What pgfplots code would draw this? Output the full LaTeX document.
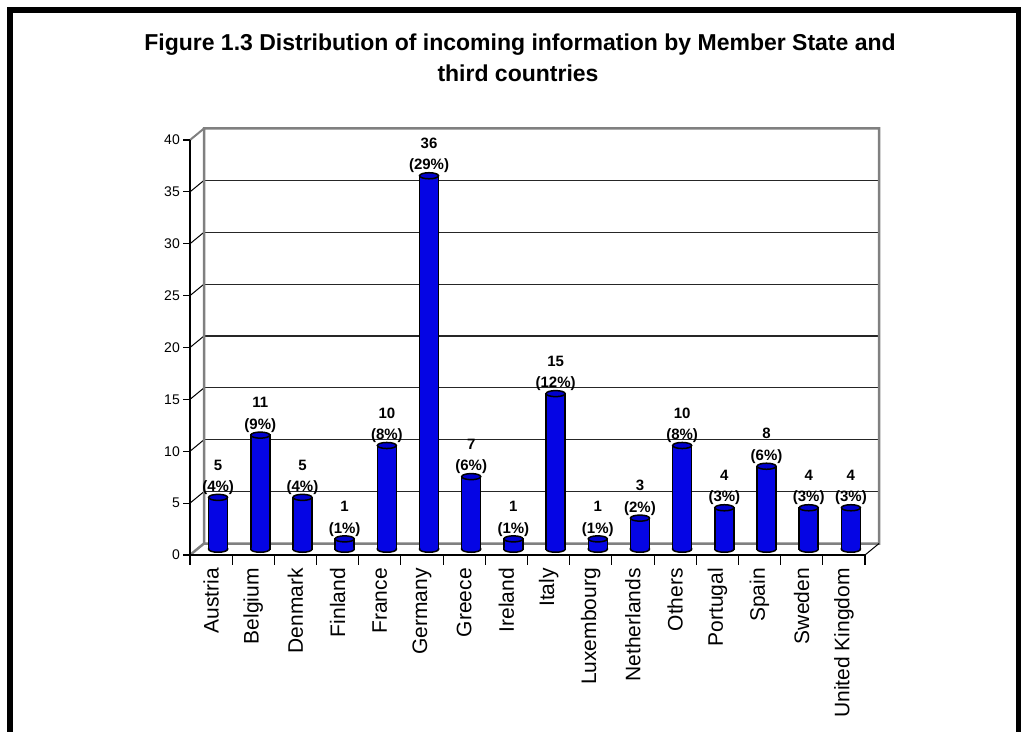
\documentclass[border=0pt]{standalone}
\usepackage{pgfplots}
\pgfplotsset{compat=1.18}
\usepackage{pgfplotstable}
\usepackage{fontspec}
\setmainfont{Liberation Sans}
\definecolor{barblue}{RGB}{5,5,228}
\definecolor{bartop}{RGB}{0,0,205}
\definecolor{wallgray}{RGB}{128,128,128}

\pgfdeclareplotmark{cylbot}{%
 \pgfpathmoveto{\pgfqpoint{-9.5pt}{1.5pt}}%
 \pgfpathlineto{\pgfqpoint{-9.5pt}{0pt}}%
 \pgfpatharc{180}{360}{9.5pt and 3pt}%
 \pgfpathlineto{\pgfqpoint{9.5pt}{1.5pt}}%
 \pgfpathclose
 \pgfusepathqfill
 \pgfpathmoveto{\pgfqpoint{-9.5pt}{1.5pt}}%
 \pgfpathlineto{\pgfqpoint{-9.5pt}{0pt}}%
 \pgfpatharc{180}{360}{9.5pt and 3pt}%
 \pgfpathlineto{\pgfqpoint{9.5pt}{1.5pt}}%
 \pgfusepathqstroke
}

\pgfplotstableread{
x y pct
0.5 5 4
1.5 11 9
2.5 5 4
3.5 1 1
4.5 10 8
5.5 36 29
6.5 7 6
7.5 1 1
8.5 15 12
9.5 1 1
10.5 3 2
11.5 10 8
12.5 4 3
13.5 8 6
14.5 4 3
15.5 4 3
}\datatable

\begin{document}
\begin{tikzpicture}
\path[use as bounding box] (0pt,0pt) rectangle (1025pt,731pt);
\draw[line width=5.4pt] (10pt,-10pt) -- (10pt,721pt) -- (1018.5pt,721pt) -- (1018.5pt,-10pt);
\node[font=\bfseries\fontsize{23}{31}\selectfont, anchor=base] at (520pt,680pt)
  {Figure 1.3 Distribution of incoming information by Member State and};
\node[font=\bfseries\fontsize{23}{31}\selectfont, anchor=base] at (518pt,649pt)
  {third countries};
\begin{axis}[
  at={(197pt,181.75pt)}, anchor=south west,
  scale only axis, width=675pt, height=415pt,
  xmin=0, xmax=16, ymin=0, ymax=40,
  clip=false,
  /pgf/number format/assume math mode=true,
  axis line style={draw=none},
  major tick length=0pt,
  ytick={0,5,...,40},
  xtick={0.5,1.5,...,15.5},
  xticklabels={Austria,Belgium,Denmark,Finland,France,Germany,Greece,Ireland,Italy,Luxembourg,Netherlands,Others,Portugal,Spain,Sweden,United Kingdom},
  yticklabel style={font=\fontsize{14}{16}\selectfont, anchor=east, inner sep=0pt, xshift=-17pt, yshift=-5.75pt},
  xticklabel style={font=\fontsize{21}{24}\selectfont, xshift=-7pt, yshift=-18.75pt, rotate=90, anchor=east, inner sep=0pt},
]
% back wall gridlines
\pgfplotsinvokeforeach{5,10,15,20,25,30,35}{
  \draw[black!85, line width=1.1pt] ([shift={(7pt,5.75pt)}]axis cs:0,#1) -- ([shift={(7pt,5.75pt)}]axis cs:16,#1);
  \draw[black, line width=1pt] ([shift={(-7pt,-5.75pt)}]axis cs:0,#1) -- ([shift={(7pt,5.75pt)}]axis cs:0,#1);
}
% back wall border and floor
\draw[wallgray, line width=2.5pt, line join=miter] ([shift={(7pt,5.75pt)}]axis cs:0,0) -- ([shift={(7pt,5.75pt)}]axis cs:0,40) -- ([shift={(7pt,5.75pt)}]axis cs:16,40) -- ([shift={(7pt,5.75pt)}]axis cs:16,0) -- ([shift={(7pt,5.75pt)}]axis cs:0,0) -- ([shift={(-7pt,-5.75pt)}]axis cs:0,0);
\draw[wallgray, line width=2pt] ([shift={(-7pt,-5.75pt)}]axis cs:0,40) -- ([shift={(7pt,5.75pt)}]axis cs:0,40);
\draw[black, line width=1pt] ([shift={(-7pt,-5.75pt)}]axis cs:16,0) -- ([shift={(7pt,5.75pt)}]axis cs:16,0);
% front axis lines and ticks
\draw[black, line width=1.3pt] ([shift={(-7pt,-5.75pt)}]axis cs:0,40) -- ([shift={(-7pt,-5.75pt)}]axis cs:0,0) -- ([shift={(-7pt,-5.75pt)}]axis cs:16,0);
\pgfplotsinvokeforeach{0,5,10,15,20,25,30,35,40}{
  \draw[black, line width=1.1pt] ([shift={(-7pt,-5.75pt)}]axis cs:0,#1) -- ++(-7pt,0pt);
}
\pgfplotsinvokeforeach{0,1,...,16}{
  \draw[black, line width=1.1pt] ([shift={(-7pt,-5.75pt)}]axis cs:#1,0) -- ++(0pt,-10pt);
}
% bars
\addplot[ybar, bar width=19pt, bar shift=0pt, draw=black, line width=1.5pt, fill=barblue]
  table[x=x, y=y]{\datatable};
\addplot[only marks, mark=cylbot, mark options={fill=barblue, draw=black, line width=1.5pt}]
  table[x=x, y expr=0]{\datatable};
\addplot[only marks, mark=*, mark size=9.5pt,
  mark options={yscale=0.32, fill=bartop, draw=black, line width=1.5pt},
  point meta=explicit symbolic,
  visualization depends on={\thisrow{y}\as\yval},
  nodes near coords={\pgfmathprintnumber{\yval}\\(\pgfplotspointmeta\%)},
  nodes near coords style={anchor=south, align=center, inner sep=0pt, yshift=2pt,
    font=\bfseries\fontsize{15}{21.5}\selectfont, text=black}]
  table[x=x, y=y, meta=pct]{\datatable};
\end{axis}
\end{tikzpicture}
\end{document}
